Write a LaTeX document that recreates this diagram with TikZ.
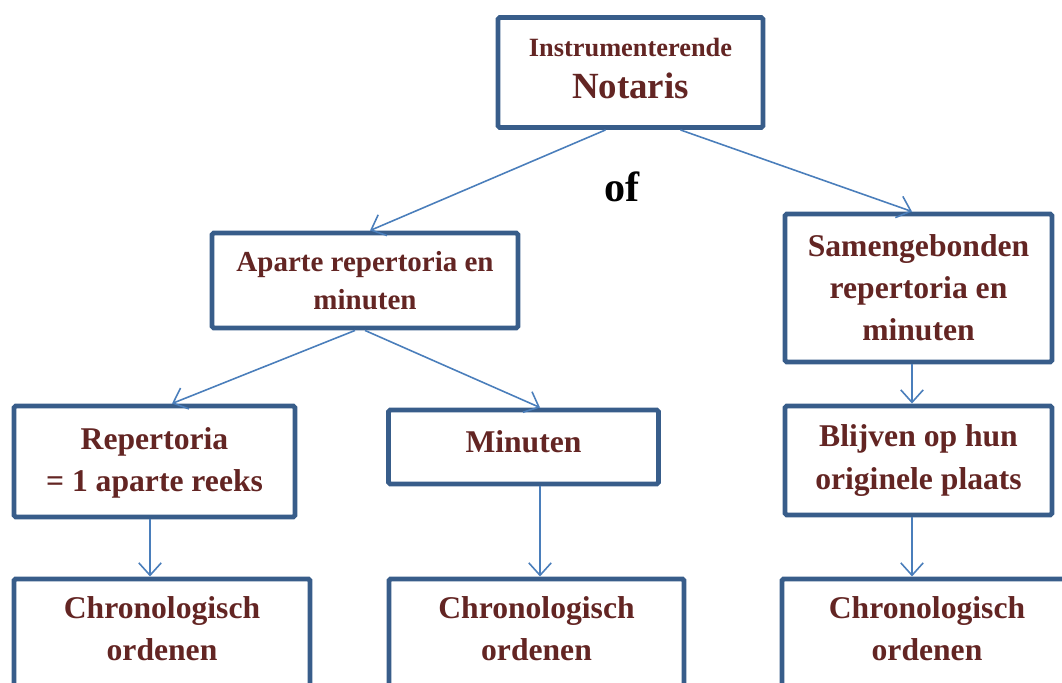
\documentclass[tikz,border=0pt]{standalone}
\usepackage{fontspec}
\setmainfont{Liberation Serif}
\usetikzlibrary{arrows.meta,positioning}

\definecolor{boxblue}{RGB}{56,93,138}
\definecolor{lineblue}{RGB}{74,126,187}
\definecolor{textred}{RGB}{99,37,35}

\begin{document}
\begin{tikzpicture}[
    >={Straight Barb[length=2.5mm,width=4.5mm]},
    every node/.style={font=\bfseries\fontsize{18}{24}\selectfont, text=textred},
    box/.style={
        rectangle, draw=boxblue, line width=2.8pt, rounded corners=1pt,
        align=center, inner sep=0pt, fill=white
    },
    chrono/.style={
        box, anchor=north,
        minimum height=2.42cm, text depth=0.43cm
    },
    arr/.style={->, line width=0.9pt, lineblue}
]

    \useasboundingbox (0,0) rectangle (21.24,-13.66);
    \clip (0,0) rectangle (21.24,-13.66);

    % Top box
    \node[box, minimum width=5.3cm, minimum height=2.2cm, text depth=0.16cm] (notaris) at (12.61,-1.45)
        {\fontsize{15}{18}\selectfont Instrumenterende\\ \fontsize{21}{25}\selectfont Notaris};
    \node[font=\bfseries\fontsize{24}{28}\selectfont, text=black] (of) at (12.44,-3.74) {of};

    % Second row
    \node[box, minimum width=6.12cm, minimum height=1.9cm,
          font=\bfseries\fontsize{16.5}{22}\selectfont] (aparte) at (7.30,-5.61)
        {Aparte repertoria en\\minuten};
    \node[box, minimum width=5.34cm, minimum height=2.96cm] (samen) at (18.37,-5.76)
        {Samengebonden\\repertoria en\\minuten};

    % Third row
    \node[box, minimum width=5.62cm, minimum height=2.22cm, text depth=0.08cm] (repert) at (3.09,-9.23)
        {Repertoria\\= 1 aparte reeks};
    \node[box, minimum width=5.4cm, minimum height=1.48cm, text depth=0.2cm] (minuten) at (10.47,-8.94)
        {Minuten};
    \node[box, minimum width=5.34cm, minimum height=2.18cm] (blijven) at (18.37,-9.21)
        {Blijven op hun\\originele plaats};

    % Bottom row, cut off by the page edge
    \node[chrono, minimum width=5.92cm] (chronoA) at (3.24,-11.53)  {Chronologisch\\ordenen};
    \node[chrono, minimum width=5.9cm]  (chronoB) at (10.73,-11.53) {Chronologisch\\ordenen};
    \node[chrono, minimum width=5.8cm]  (chronoC) at (18.54,-11.53) {Chronologisch\\ordenen};

    % Edges
    \draw[arr] ([xshift=-5mm]notaris.south) -- ([xshift=1mm]aparte.north);
    \draw[arr] ([xshift=10mm]notaris.south) -- ([xshift=-1.3mm]samen.north);
    \draw[arr] ([xshift=-2mm]aparte.south)  -- ([xshift=3.5mm]repert.north);
    \draw[arr] (aparte.south) -- ([xshift=3.3mm]minuten.north);
    \draw[arr] ([xshift=-1.3mm]samen.south) -- ([xshift=-1.3mm]blijven.north);
    \draw[arr] ([xshift=-0.9mm]repert.south) -- ([xshift=-0.9mm]repert.south |- chronoA.north);
    \draw[arr] ([xshift=3.3mm]minuten.south) -- ([xshift=3.3mm]minuten.south |- chronoB.north);
    \draw[arr] ([xshift=-1.3mm]blijven.south) -- ([xshift=-1.3mm]blijven.south |- chronoC.north);

\end{tikzpicture}
\end{document}
